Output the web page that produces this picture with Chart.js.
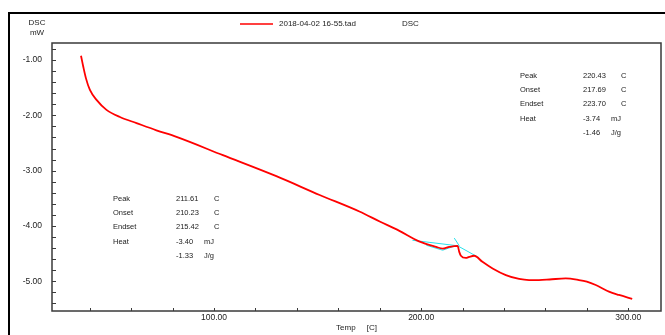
<!DOCTYPE html>
<html>
<head>
<meta charset="utf-8">
<script src="https://cdn.jsdelivr.net/npm/chart.js@4.4.1/dist/chart.umd.min.js"></script>
<style>
  html, body { margin: 0; padding: 0; background: #fff; }
  #wrap { width: 665px; height: 335px; }
</style>
</head>
<body>
<div id="wrap"><canvas id="dsc-chart" width="665" height="335"></canvas></div>
<script>
// DSC curve
const tempC = [35.8, 36.9, 38.2, 40.1, 43.3, 48.1, 54.6, 62.6, 72.2, 81.9,
  104.3, 130.1, 151.0, 170.2, 180.0, 189.5, 199.0, 207.2, 210.4, 213.6, 217.6,
  218.4, 219.2, 221.6, 223.2, 225.6, 229.6, 234.5, 240.9, 247.3, 252.1,
  256.9, 262.0, 269.8, 276.2, 280.0, 284.3, 290.7, 295.5, 301.9];
const dscMw = [-0.92, -1.12, -1.33, -1.54, -1.72, -1.90, -2.03, -2.14, -2.27, -2.39,
  -2.72, -3.10, -3.44, -3.74, -3.92, -4.09, -4.28, -4.38, -4.41, -4.38, -4.36,
  -4.47, -4.54, -4.58, -4.56, -4.54, -4.65, -4.77, -4.89, -4.96, -4.98,
  -4.98, -4.97, -4.95, -4.98, -5.01, -5.07, -5.19, -5.25, -5.32];

// analysis lines (cyan)
const base1Temp = [195.8, 217.6];
const base1Dsc = [-4.26, -4.36];
const peakLineTemp = [202.5, 210.4, 216.5];
const peakLineDsc = [-4.35, -4.44, -4.36];
const tangentTemp = [216.0, 218.4];
const tangentDsc = [-4.22, -4.36];
const base2Temp = [217.6, 227.2];
const base2Dsc = [-4.36, -4.56];

const xTicks = [100, 200, 300];
const yTicks = [-1, -2, -3, -4, -5];

const fileName = "2018-04-02 16-55.tad";
const peak1Rows = [["Peak", "211.61", "C"], ["Onset", "210.23", "C"], ["Endset", "215.42", "C"], ["Heat", "-3.40", "mJ"], ["", "-1.33", "J/g"]];
const peak2Rows = [["Peak", "220.43", "C"], ["Onset", "217.69", "C"], ["Endset", "223.70", "C"], ["Heat", "-3.74", "mJ"], ["", "-1.46", "J/g"]];

function pts(xs, ys) {
  return xs.map((x, i) => ({ x: x, y: ys[i] }));
}

const FONT = "'Liberation Sans', Arial, sans-serif";
const CYAN = "rgb(40, 225, 235)";

function cyanSet(xs, ys) {
  return { data: pts(xs, ys), borderColor: CYAN, borderWidth: 1, pointRadius: 0, tension: 0 };
}

function drawRows(ctx, rows, x0, x1, y0, dy) {
  rows.forEach((r, i) => {
    const y = y0 + i * dy;
    ctx.fillText(r[0], x0, y);
    ctx.fillText(r[1], x1, y);
    const ux = r[2] === "C" ? x1 + 38 : x1 + 28;
    ctx.fillText(r[2], ux, y);
  });
}

const framePlugin = {
  id: "frame",
  afterDraw(chart) {
    const ctx = chart.ctx, a = chart.chartArea;
    const xs = chart.scales.x, ys = chart.scales.y;
    ctx.save();
    // outer frame
    ctx.strokeStyle = "#000";
    ctx.lineWidth = 2;
    ctx.beginPath();
    ctx.moveTo(9, 335); ctx.lineTo(9, 13); ctx.lineTo(665, 13);
    ctx.stroke();

    // plot frame
    ctx.strokeStyle = "#3a3a3a";
    ctx.lineWidth = 1.5;
    ctx.strokeRect(a.left, a.top, a.right - a.left, a.bottom - a.top);

    // inward ticks, minor every 20 C / 0.2 mW
    ctx.lineWidth = 1;
    ctx.beginPath();
    for (let v = 20; v <= 315; v += 20) {
      const px = Math.round(xs.getPixelForValue(v)) + 0.5;
      if (px <= a.left + 1) continue;
      ctx.moveTo(px, a.bottom); ctx.lineTo(px, a.bottom - 3);
    }
    for (let k = -27; k <= -4; k++) {
      const py = Math.round(ys.getPixelForValue(k * 0.2)) + 0.5;
      if (py <= a.top + 1) continue;
      ctx.moveTo(a.left, py); ctx.lineTo(a.left + 4, py);
    }
    ctx.stroke();

    // header: axis unit and legend
    ctx.fillStyle = "#222";
    ctx.font = "8px " + FONT;
    ctx.textAlign = "center";
    ctx.textBaseline = "middle";
    ctx.fillText("DSC", 37, 23);
    ctx.fillText("mW", 37, 33);
    ctx.textAlign = "left";
    ctx.fillText(fileName, 279, 24);
    ctx.fillText(chart.data.datasets[0].label, 402, 24);
    ctx.strokeStyle = "red";
    ctx.lineWidth = 1.5;
    ctx.beginPath();
    ctx.moveTo(240, 24); ctx.lineTo(273, 24);
    ctx.stroke();

    // peak analysis blocks
    ctx.font = "7.5px " + FONT;
    drawRows(ctx, peak1Rows, 113, 176, 199, 14.2);
    drawRows(ctx, peak2Rows, 520, 583, 76, 14.2);
    ctx.restore();
  }
};

new Chart(document.getElementById("dsc-chart"), {
  type: "line",
  data: {
    datasets: [
      { label: "DSC", data: pts(tempC, dscMw), borderColor: "rgb(255, 0, 0)", borderWidth: 1.8,
        pointRadius: 0, tension: 0.3, cubicInterpolationMode: "monotone" },
      cyanSet(base1Temp, base1Dsc),
      cyanSet(peakLineTemp, peakLineDsc),
      cyanSet(tangentTemp, tangentDsc),
      cyanSet(base2Temp, base2Dsc)
    ]
  },
  options: {
    responsive: false,
    animation: false,
    devicePixelRatio: 1,
    layout: { padding: { left: 0, right: 4, top: 43, bottom: 0 } },
    plugins: { legend: { display: false }, tooltip: { enabled: false } },
    scales: {
      x: {
        type: "linear",
        min: 21.8,
        max: 315.8,
        afterBuildTicks: s => { s.ticks = xTicks.map(v => ({ value: v })); },
        afterFit: s => { s.height = 24; },
        grid: { display: false, drawTicks: false },
        border: { display: false },
        ticks: { color: "#222", font: { family: FONT, size: 8.5 }, padding: 2,
          maxRotation: 0, callback: v => v.toFixed(2) },
        title: { display: true, text: "Temp     [C]", color: "#222",
          font: { family: FONT, size: 8 }, padding: { top: 0, bottom: 2 } }
      },
      y: {
        min: -5.54,
        max: -0.69,
        afterBuildTicks: s => { s.ticks = yTicks.map(v => ({ value: v })); },
        afterFit: s => { s.width = 52; },
        grid: { display: false, drawTicks: false },
        border: { display: false },
        ticks: { color: "#222", font: { family: FONT, size: 8.5 }, padding: 10,
          callback: v => v.toFixed(2) }
      }
    }
  },
  plugins: [framePlugin]
});
</script>
</body>
</html>
